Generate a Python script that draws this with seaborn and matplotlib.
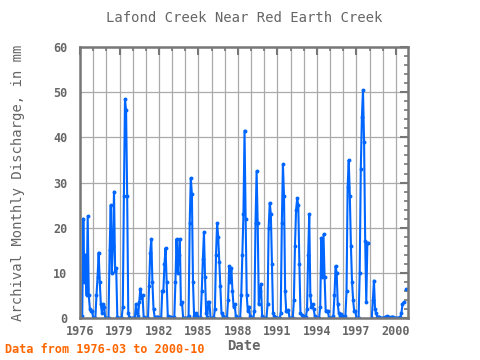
import numpy as np
import pandas as pd
import matplotlib
matplotlib.use("Agg")
import matplotlib.pyplot as plt
import seaborn as sns
from matplotlib.ticker import MultipleLocator, FixedLocator

nan = np.nan
# monthly discharge (mm), Jan..Dec for each year; 1976 starts in March
years = list(range(1976, 2001))
v1976 = [nan, nan, 0.5, 22, 8, 14, 5, 22.5, 5, 2, 1.5, 1.5]
v1977 = [0, 0, 0, 5, 9, 14.5, 8, 3, 1, 3, 2.5, 0]
v1978 = [0, 0, 0, 15, 25, 10, 16, 28, 10.5, 11, 0.3, 0]
v1979 = [0, 0, 0, 2.5, 27, 48.5, 46, 27, 1, 0.2, 0, 0]
v1980 = [0, 0, 0, 3, 1, 0.5, 3.5, 6.5, 4.5, 5, 0.3, 0]
v1981 = [0, 0, 0, 7, 14.5, 17.5, 8, 2, 0.3, 0, 0.3, 0.3]
v1982 = [0, 0, 0, 6, 6, 12, 15.5, 8, 0.5, 0.2, 0.2, 0.2]
v1983 = [0, 0, 0.3, 8, 17.5, 10, 14, 17.5, 3, 3.5, 0, 0]
v1984 = [0, 0, 0, 0.5, 21, 31, 27.5, 8, 0.5, 0.5, 1, 0.5]
v1985 = [0, 0, 0, 6, 13, 19, 9, 1, 0.2, 3.5, 3.5, 0]
v1986 = [0, 0, 0, 2, 14, 21, 18, 12.5, 7, 1, 0.5, 0]
v1987 = [0, 0, 0, 4, 11.5, 8, 11, 6, 2.5, 3, 0.5, 0]
v1988 = [0, 0, 0, 5, 14, 23, 41.5, 22, 5, 1.5, 2.5, 0.5]
v1989 = [0, 0, 0, 1.5, 21, 32.5, 21, 3, 6, 7.5, 0.5, 0]
v1990 = [0, 0, 0, 3, 20, 25.5, 23, 12, 1, 0.5, 0.3, 0]
v1991 = [0, 0, 0, 1, 21, 34, 27, 6, 1.5, 1.5, 1.8, 0]
v1992 = [0, 0, 0, 4, 16, 24, 26.5, 25, 12, 1, 0.7, 0.5]
v1993 = [0, 0, 0.2, 2, 14, 23, 5, 2.5, 3, 2, 0.5, 0]
v1994 = [0, 0, 0, 2.5, 17.7, 9, 18.5, 9, 1.5, 1.5, 1.5, 0]
v1995 = [0, 0, 0, 0.5, 5, 11.5, 10, 3, 1, 0.5, 0.8, 0.5]
v1996 = [0, 0, 0.5, 6, 29, 35, 27, 16, 8, 4, 1.5, 1.5]
v1997 = [0, 0, 0, 10, 33, 44.5, 50.5, 39, 17, 3.5, 16.5, 16.5]
v1998 = [nan, nan, 0, 4, 8.3, 2, 1, 0.3, 0.2, 0.3, 0, 0]
v1999 = [0, 0, 0.2, 0.3, 0.4, 0.3, 0.2, 0, 0.3, 0.3, 0, 0]
v2000 = [0, 0, 0, 0, 0.2, 1, 3, 3.5, nan, 6.5, nan, nan]

values = [v1976, v1977, v1978, v1979, v1980, v1981, v1982, v1983, v1984,
          v1985, v1986, v1987, v1988, v1989, v1990, v1991, v1992, v1993,
          v1994, v1995, v1996, v1997, v1998, v1999, v2000]
tick_years = list(range(1976, 2001, 3))

rows = []
for yr, vals in zip(years, values):
    for m, v in enumerate(vals):
        rows.append((yr + m / 12.0, v))
df = pd.DataFrame(rows, columns=["date", "q"])
df = df[(df.date >= 1976 + 2 / 12) & (df.date <= 2000 + 9 / 12)].reset_index(drop=True)
df["seg"] = df["q"].isna().cumsum()
df = df.dropna()

sns.set_theme(style="white")
plt.rcParams["font.family"] = ["DejaVu Sans Mono"]
gray = "#666666"

fig = plt.figure(figsize=(4.8, 3.6), dpi=100)
ax = fig.add_axes([0.1667, 0.1167, 0.6833, 0.7525])

sns.lineplot(data=df, x="date", y="q", units="seg", estimator=None,
             color="#0066ff", lw=1.5, marker="o", markersize=2.8,
             markeredgewidth=0, ax=ax)

ax.set_xlim(1976, 2000.92)
ax.set_ylim(0, 60)
ax.xaxis.set_major_locator(FixedLocator(tick_years))
ax.xaxis.set_minor_locator(FixedLocator(years))
ax.yaxis.set_major_locator(MultipleLocator(10))
ax.yaxis.set_minor_locator(MultipleLocator(2))
ax.grid(True, which="major", axis="y", color="#aaaaaa", lw=0.9)
ax.grid(True, which="both", axis="x", color="#aaaaaa", lw=0.9)
ax.tick_params(which="both", direction="in", top=True, right=True,
               colors="#777777", labelcolor=gray, labelsize=8.5)
ax.tick_params(which="major", length=6, width=1.5)
ax.tick_params(which="minor", length=3, width=1.2)
ax.tick_params(axis="y", pad=9)
ax.tick_params(axis="x", pad=5)
ax.set_xticklabels([str(y) for y in tick_years])
for lab in ax.get_xticklabels() + ax.get_yticklabels():
    lab.set_fontweight("bold")
for s in ax.spines.values():
    s.set_color("#777777")
    s.set_linewidth(1.8)

ax.set_title("Lafond Creek Near Red Earth Creek", color=gray, fontsize=10, pad=18)
ax.set_xlabel("Date", color=gray, fontsize=10, fontweight="bold", labelpad=1)
ax.set_ylabel("Archival Monthly Discharge, in mm", color=gray, fontsize=10, labelpad=20)
fig.text(0.01, 0.02, "Data from 1976-03 to 2000-10", color="#ff6600",
         fontsize=8.5, fontweight="bold")

fig.savefig("out.png", dpi=100)
